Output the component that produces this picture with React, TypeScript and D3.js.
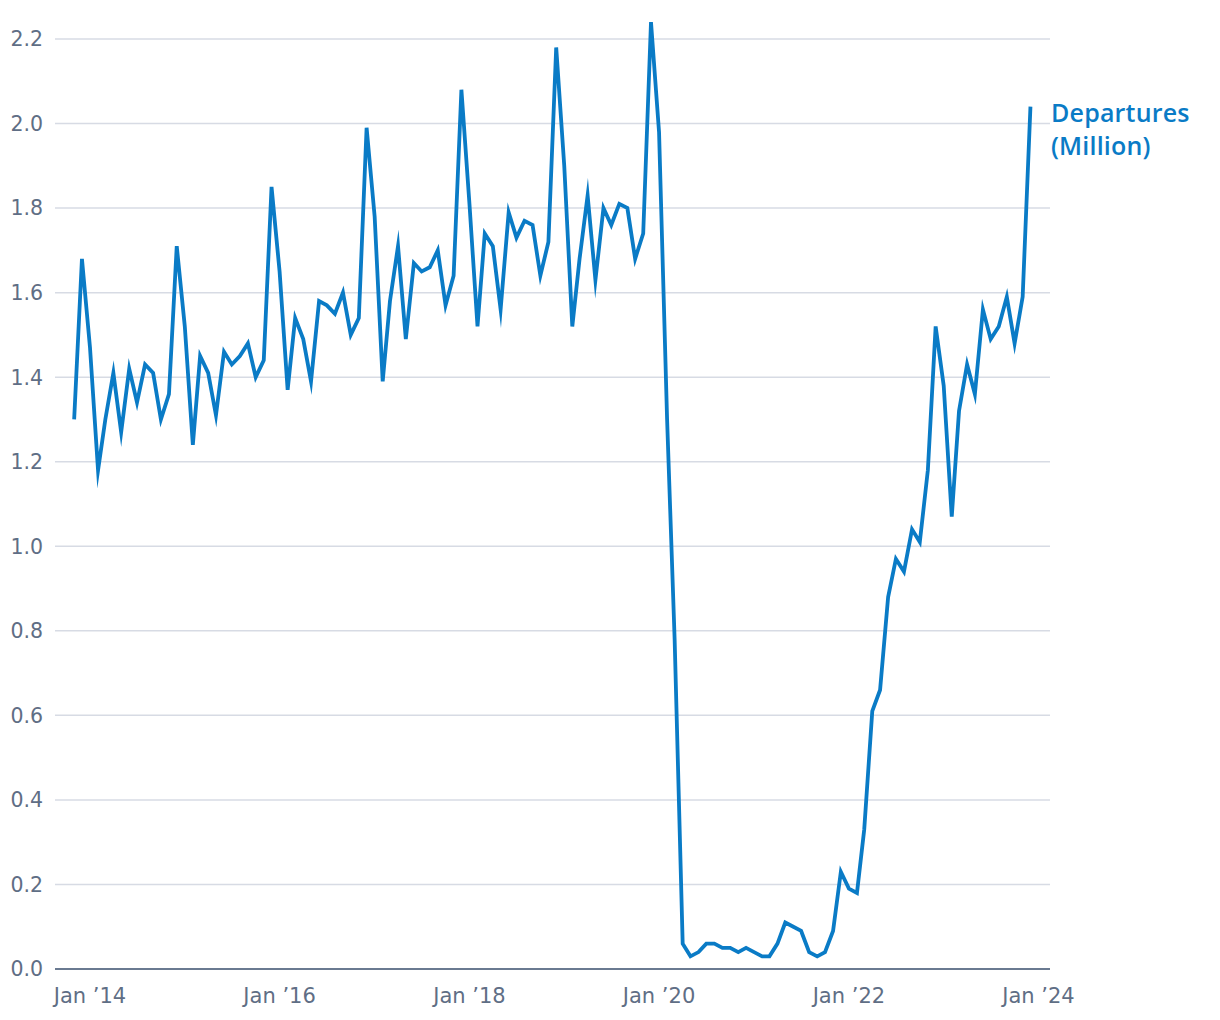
import React from "react";
import * as d3 from "d3";

const startMonth = "2013-11";
const departures: number[] = [
  1.30, 1.68,
  1.47, 1.18, 1.30, 1.41, 1.27, 1.42, 1.34, 1.43, 1.41, 1.30, 1.36, 1.71,
  1.52, 1.24, 1.45, 1.41, 1.31, 1.46, 1.43, 1.45, 1.48, 1.40, 1.44, 1.85,
  1.65, 1.37, 1.54, 1.49, 1.39, 1.58, 1.57, 1.55, 1.60, 1.50, 1.54, 1.99,
  1.78, 1.39, 1.58, 1.71, 1.49, 1.67, 1.65, 1.66, 1.70, 1.57, 1.64, 2.08,
  1.81, 1.52, 1.74, 1.71, 1.56, 1.79, 1.73, 1.77, 1.76, 1.64, 1.72, 2.18,
  1.90, 1.52, 1.68, 1.83, 1.63, 1.80, 1.76, 1.81, 1.80, 1.68, 1.74, 2.24,
  1.98, 1.30, 0.78, 0.06, 0.03, 0.04, 0.06, 0.06, 0.05, 0.05, 0.04, 0.05,
  0.04, 0.03, 0.03, 0.06, 0.11, 0.10, 0.09, 0.04, 0.03, 0.04, 0.09, 0.23,
  0.19, 0.18, 0.33, 0.61, 0.66, 0.88, 0.97, 0.94, 1.04, 1.01, 1.18, 1.52,
  1.38, 1.07, 1.32, 1.43, 1.36, 1.56, 1.49, 1.52, 1.59, 1.48, 1.59, 2.04,
];
const yTicks = [0, 0.2, 0.4, 0.6, 0.8, 1.0, 1.2, 1.4, 1.6, 1.8, 2.0, 2.2];
const xTickYears = [2014, 2016, 2018, 2020, 2022, 2024];
const seriesLabel = ["Departures", "(Million)"];

const W = 1220;
const H = 1020;
const plotLeft = 55;
const plotRight = 1050;
const blue = "#0a7bc6";
const tickColor = "#5f6e85";
const gridColor = "#d7dbe4";
const axisColor = "#6a7a91";

export default function App() {
  const parse = d3.timeParse("%Y-%m");
  const start = parse(startMonth) as Date;
  const data = departures.map((v, i) => ({ date: d3.timeMonth.offset(start, i), v }));

  const x = d3
    .scaleTime()
    .domain([new Date(2014, 0, 1), new Date(2024, 0, 1)])
    .range([90, 1038.5]);
  const y = d3.scaleLinear().domain([0, 2.2]).range([969, 39]);

  const line = d3
    .line<{ date: Date; v: number }>()
    .x((d) => x(d.date))
    .y((d) => y(d.v))
    .curve(d3.curveLinear);

  const tickFont = "'DejaVu Sans', sans-serif";

  return (
    <div style={{ position: "absolute", left: 0, top: 0 }}>
      <svg width={W} height={H} style={{ display: "block", background: "#fff" }}>
        {yTicks.map((t) =>
          t === 0 ? null : (
            <line
              key={"g" + t}
              x1={plotLeft}
              x2={plotRight}
              y1={y(t)}
              y2={y(t)}
              stroke={gridColor}
              strokeWidth={1.5}
            />
          )
        )}
        {yTicks.map((t) => (
          <text
            key={"yt" + t}
            x={43}
            y={y(t)}
            dy="0.36em"
            textAnchor="end"
            fontFamily={tickFont}
            fontSize={20.5}
            fill={tickColor}
          >
            {t.toFixed(1)}
          </text>
        ))}
        <line
          x1={plotLeft}
          x2={plotRight}
          y1={y(0)}
          y2={y(0)}
          stroke={axisColor}
          strokeWidth={2}
        />
        {xTickYears.map((yr) => (
          <text
            key={"xt" + yr}
            x={x(new Date(yr, 0, 1))}
            y={1003}
            textAnchor="middle"
            fontFamily={tickFont}
            fontSize={21}
            fill={tickColor}
          >
            {"Jan \u2019" + String(yr).slice(2)}
          </text>
        ))}
        <path
          d={line(data) || ""}
          fill="none"
          stroke={blue}
          strokeWidth={3.8}
          strokeLinejoin="miter"
          strokeMiterlimit={10}
        />
        <text
          fontFamily="'Open Sans', sans-serif"
          fontWeight={600}
          fontSize={25}
          fill={blue}
          letterSpacing={0.2}
        >
          <tspan x={1051} y={122}>{seriesLabel[0]}</tspan>
          <tspan x={1051} y={155}>{seriesLabel[1]}</tspan>
        </text>
      </svg>
    </div>
  );
}
